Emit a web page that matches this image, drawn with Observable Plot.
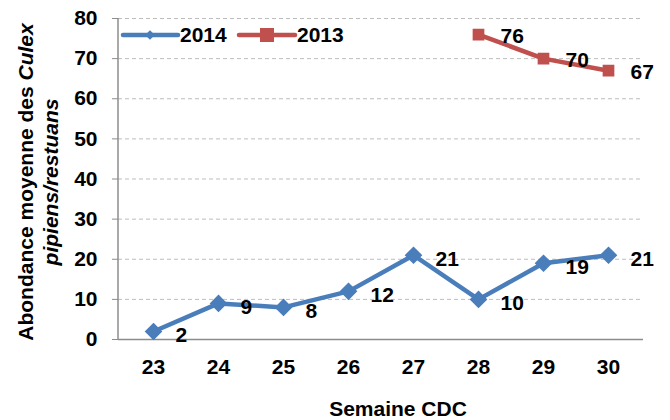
<!DOCTYPE html>
<html>
<head>
<meta charset="utf-8">
<script src="https://cdn.jsdelivr.net/npm/d3@7"></script>
<script src="https://cdn.jsdelivr.net/npm/@observablehq/plot@0.6"></script>
<style>
  html, body { margin: 0; padding: 0; background: #fff; }
  #chart { width: 670px; height: 420px; }
</style>
</head>
<body>
<div id="chart"></div>
<script>
const weeks = [23, 24, 25, 26, 27, 28, 29, 30];
const values2014 = [2, 9, 8, 12, 21, 10, 19, 21];
const weeks2013 = [28, 29, 30];
const values2013 = [76, 70, 67];
const yTicks = [0, 10, 20, 30, 40, 50, 60, 70, 80];

const blue = "#4a7ebb";
const red = "#c0504d";
const font = "'Liberation Sans', Arial, Helvetica, sans-serif";
const fs = 21;

const d2014 = weeks.map((w, i) => ({week: w, value: values2014[i]}));
const d2013 = weeks2013.map((w, i) => ({week: w, value: values2013[i]}));

const plot = Plot.plot({
  width: 670,
  height: 420,
  marginLeft: 118,
  marginRight: 27,
  marginTop: 18,
  marginBottom: 81,
  style: {fontFamily: font, fontSize: fs + "px", fontWeight: "bold", color: "#000", background: "#fff"},
  x: {type: "point", domain: weeks, padding: 0.5, label: null},
  y: {domain: [0, 80], label: null},
  marks: [
    Plot.gridY(yTicks.filter(d => d > 0), {stroke: "#bdbdbd", strokeOpacity: 1, strokeDasharray: "4,3", strokeWidth: 1}),
    Plot.ruleY([0], {stroke: "#8c8c8c", strokeWidth: 1.5}),
    Plot.axisY({ticks: yTicks, tickSize: 6, tickPadding: 15, stroke: "#8c8c8c", fill: "#000", fontSize: fs, fontWeight: "bold", label: null}),
    Plot.axisX({tickSize: 0, tickPadding: 20, fontSize: fs, fontWeight: "bold", label: null}),
    Plot.line(d2014, {x: "week", y: "value", stroke: blue, strokeWidth: 4.5}),
    Plot.dot(d2014, {x: "week", y: "value", symbol: "diamond2", r: 7, fill: blue, stroke: blue}),
    Plot.line(d2013, {x: "week", y: "value", stroke: red, strokeWidth: 4.5}),
    Plot.dot(d2013, {x: "week", y: "value", symbol: "square2", r: 6.5, fill: red, stroke: red}),
    Plot.text(d2014, {x: "week", y: "value", text: d => String(d.value), dx: 22, dy: 4, textAnchor: "start", fontSize: fs, fontWeight: "bold", fill: "#000"}),
    Plot.text(d2013, {x: "week", y: "value", text: d => String(d.value), dx: 22, dy: 2, textAnchor: "start", fontSize: fs, fontWeight: "bold", fill: "#000"})
  ]
});

document.getElementById("chart").appendChild(plot);

const svg = d3.select(plot);

// Y axis line
svg.append("line")
  .attr("x1", 118).attr("x2", 118).attr("y1", 18).attr("y2", 339)
  .attr("stroke", "#8c8c8c").attr("stroke-width", 1.5);

// Y axis title (two lines, rotated)
const yt = svg.append("text")
  .attr("transform", "translate(33,182) rotate(-90)")
  .attr("text-anchor", "middle")
  .attr("font-family", font).attr("font-size", fs).attr("font-weight", "bold").attr("fill", "#000");
yt.append("tspan").text("Abondance moyenne des ");
yt.append("tspan").attr("font-style", "italic").text("Culex");
svg.append("text")
  .attr("transform", "translate(58,182) rotate(-90)")
  .attr("text-anchor", "middle")
  .attr("font-family", font).attr("font-size", fs).attr("font-weight", "bold").attr("font-style", "italic").attr("fill", "#000")
  .text("pipiens/restuans");

// X axis title
svg.append("text")
  .attr("x", 398).attr("y", 416)
  .attr("text-anchor", "middle")
  .attr("font-family", font).attr("font-size", fs).attr("font-weight", "bold").attr("fill", "#000")
  .text("Semaine CDC");

// Legend
const lg = svg.append("g").attr("font-family", font).attr("font-size", fs).attr("font-weight", "bold").attr("text-anchor", "start");
lg.append("line").attr("x1", 123).attr("x2", 178).attr("y1", 35).attr("y2", 35).attr("stroke", blue).attr("stroke-width", 4.5).attr("stroke-linecap", "round");
lg.append("path").attr("d", d3.symbol(d3.symbolDiamond2, 60)()).attr("transform", "translate(150,35)").attr("fill", blue);
lg.append("text").attr("x", 180).attr("y", 42).text("2014");
lg.append("line").attr("x1", 239).attr("x2", 295).attr("y1", 35).attr("y2", 35).attr("stroke", red).attr("stroke-width", 4.5).attr("stroke-linecap", "round");
lg.append("rect").attr("x", 260).attr("y", 28).attr("width", 14).attr("height", 14).attr("fill", red);
lg.append("text").attr("x", 297).attr("y", 42).text("2013");
</script>
</body>
</html>
